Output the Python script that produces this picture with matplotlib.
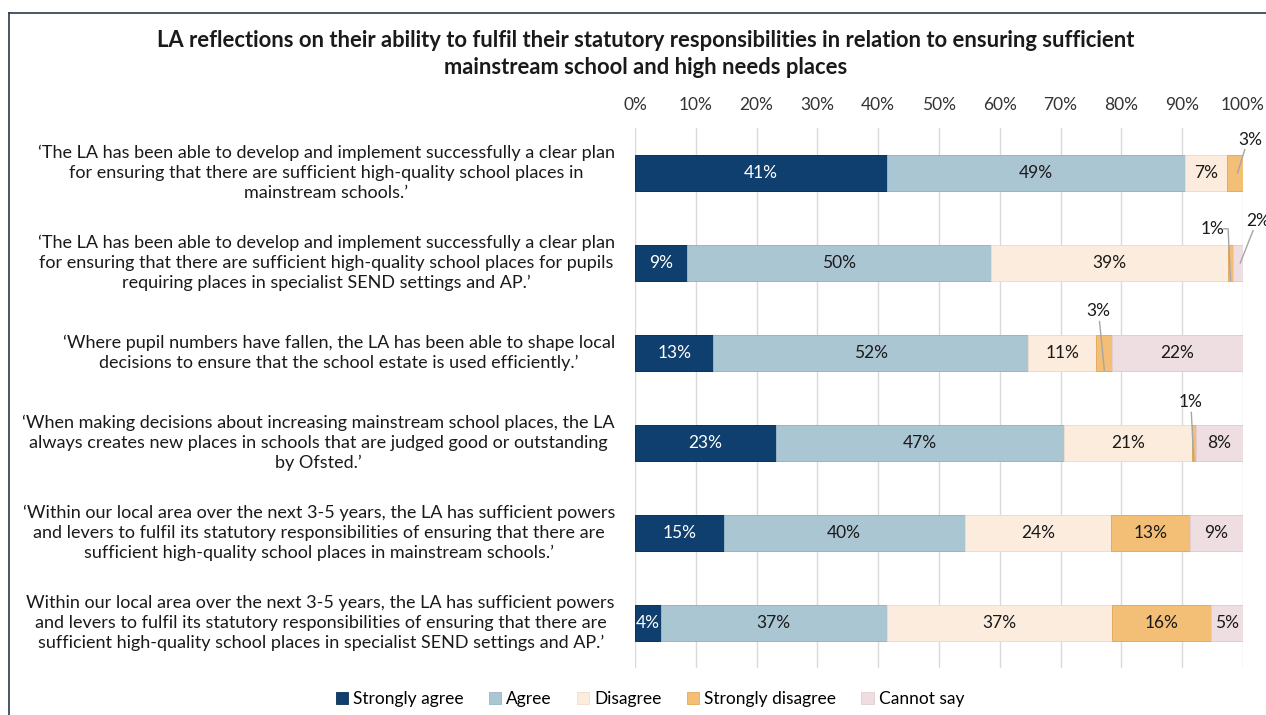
import numpy as np
import matplotlib
matplotlib.use("Agg")
import matplotlib.pyplot as plt
from matplotlib.patches import Patch
from matplotlib.lines import Line2D

plt.rcParams['font.family'] = ['Lato', 'DejaVu Sans']

statements = [
    "\u2018The LA has been able to develop and implement successfully a clear plan\n"
    "for ensuring that there are sufficient high-quality school places in\n"
    "mainstream schools.\u2019",
    "\u2018The LA has been able to develop and implement successfully a clear plan\n"
    "for ensuring that there are sufficient high-quality school places for pupils\n"
    "requiring places in specialist SEND settings and AP.\u2019",
    "\u2018Where pupil numbers have fallen, the LA has been able to shape local\n"
    "decisions to ensure that the school estate is used efficiently.\u2019",
    "\u2018When making decisions about increasing mainstream school places, the LA\n"
    "always creates new places in schools that are judged good or outstanding\n"
    "by Ofsted.\u2019",
    "\u2018Within our local area over the next 3-5 years, the LA has sufficient powers\n"
    "and levers to fulfil its statutory responsibilities of ensuring that there are\n"
    "sufficient high-quality school places in mainstream schools.\u2019",
    "Within our local area over the next 3-5 years, the LA has sufficient powers\n"
    "and levers to fulfil its statutory responsibilities of ensuring that there are\n"
    "sufficient high-quality school places in specialist SEND settings and AP.\u2019",
]

responses = ["Strongly agree", "Agree", "Disagree", "Strongly disagree", "Cannot say"]

# Percentage of LAs giving each response, one list per statement
strongly_agree    = [41.4,  8.6, 12.9, 23.2, 14.6,  4.2]
agree             = [49.1, 50.0, 51.7, 47.4, 39.6, 37.2]
disagree          = [ 6.9, 39.0, 11.3, 21.0, 24.1, 37.0]
strongly_disagree = [ 2.6,  0.7,  2.6,  0.6, 13.0, 16.4]
cannot_say        = [ 0.0,  1.7, 21.5,  7.8,  8.7,  5.2]

series = [strongly_agree, agree, disagree, strongly_disagree, cannot_say]
colors = ["#0E3F6E", "#AAC6D3", "#FCECDD", "#F3BE75", "#EEDEE1"]
edges = ["#0A3158", "#95B6C6", "#F2DCC8", "#E6AA5C", "#E2CDD1"]
text_colors = ["white", "#1a1a1a", "#1a1a1a", "#1a1a1a", "#1a1a1a"]

# small segments labelled outside the bar: (row, series) -> (dx, dy) of the label
outside = {
    (0, 3): (2.5, -0.37),
    (1, 3): (-3.0, -0.38),
    (1, 4): (3.4, -0.47),
    (2, 3): (-1.0, -0.47),
    (3, 3): (-0.6, -0.46),
}

fig = plt.figure(figsize=(12.66, 7.15), dpi=100)
ax = fig.add_axes([635 / 1266, 1 - 668 / 715, 608 / 1266, 540 / 715])

y = np.arange(len(statements))
left = np.zeros(len(statements))
for k, (vals, col, ec, tc) in enumerate(zip(series, colors, edges, text_colors)):
    vals = np.array(vals)
    ax.barh(y, vals, left=left, height=0.4, color=col, edgecolor=ec,
            linewidth=0.7, label=responses[k], zorder=3)
    for i, v in enumerate(vals):
        if v <= 0:
            continue
        cx = left[i] + v / 2
        lab = f"{v:.0f}%"
        if (i, k) in outside:
            dx, dy = outside[(i, k)]
            tx, ty = cx + dx, i + dy
            ax.text(tx, ty, lab, ha='center', va='center', fontsize=12.5,
                    color="#1a1a1a", zorder=5, clip_on=False)
            if (i, k) == (1, 3):
                xs = [tx + 1.9, tx + 2.6, cx]
                ys = [ty, ty, i + 0.19]
            elif dx > 0:
                xs = [tx - 0.9, cx + 0.4]
                ys = [ty + 0.11, i]
            else:
                xs = [tx + 0.2, cx]
                ys = [ty + 0.12, i + 0.19]
            ax.add_line(Line2D(xs, ys, color="#a6a6a6", lw=1.0, zorder=6,
                               clip_on=False))
        else:
            ax.text(cx, i, lab, ha='center', va='center', fontsize=12.5,
                    color=tc, zorder=5)
    left += vals

ax.set_xlim(0, 100)
ax.set_ylim(len(statements) - 0.5, -0.5)
ax.set_xticks(np.arange(0, 101, 10))
ax.set_xticklabels([f"{t}%" for t in range(0, 101, 10)], fontsize=12.5, color="#333333")
ax.xaxis.tick_top()
ax.tick_params(axis='x', length=0, pad=11)
ax.set_yticks([])
ax.grid(axis='x', color="#d9d9d9", lw=1.0, zorder=0)
for s in ax.spines.values():
    s.set_visible(False)

for i, txt in enumerate(statements):
    ax.text(-0.033, i, txt, transform=ax.get_yaxis_transform(), ha='right',
            va='center', multialignment='center', fontsize=13,
            color="#1a1a1a", linespacing=1.3)

fig.text(0.51, 1 - 54 / 715,
         "LA reflections on their ability to fulfil their statutory responsibilities in relation to ensuring sufficient\n"
         "mainstream school and high needs places",
         ha='center', va='center', fontsize=15.8, fontweight='bold', color="#1a1a1a",
         linespacing=1.4)

handles = [Patch(facecolor=c, edgecolor=e, lw=0.6) for c, e in zip(colors, edges)]
fig.legend(handles, responses, loc='center', bbox_to_anchor=(650 / 1266, 1 - 699 / 715),
           ncol=5, frameon=False, fontsize=12.5, handlelength=0.7, handleheight=0.7,
           handletextpad=0.3, columnspacing=1.45)

# outer frame
fig.add_artist(Line2D([9 / 1266, 9 / 1266], [0, 1 - 13 / 715], transform=fig.transFigure,
                      color="#2b3a4a", lw=1.2))
fig.add_artist(Line2D([9 / 1266, 1], [1 - 13 / 715, 1 - 13 / 715], transform=fig.transFigure,
                      color="#2b3a4a", lw=1.2))

fig.savefig("out.png", dpi=100)
